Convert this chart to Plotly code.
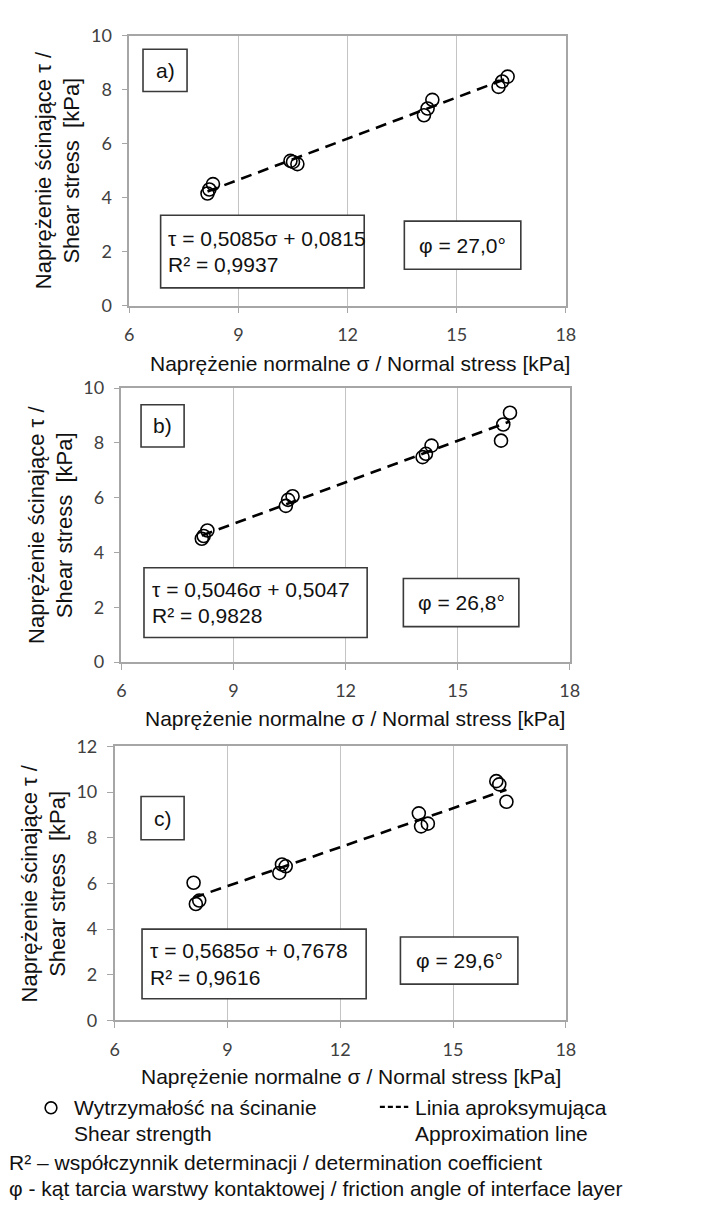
import plotly.graph_objects as go

W, H = 707, 1216

# ---------------- data ----------------
sigma_a = [8.15, 8.2, 8.3, 10.43, 10.5, 10.62, 14.1, 14.2, 14.33, 16.15, 16.25, 16.4]
tau_a = [4.15, 4.3, 4.5, 5.36, 5.32, 5.24, 7.05, 7.3, 7.62, 8.1, 8.3, 8.48]

sigma_b = [8.15, 8.2, 8.3, 10.4, 10.46, 10.58, 14.06, 14.15, 14.3, 16.16, 16.22, 16.4]
tau_b = [4.5, 4.6, 4.8, 5.7, 5.92, 6.05, 7.48, 7.6, 7.9, 8.08, 8.67, 9.1]

sigma_c = [8.1, 8.16, 8.25, 10.38, 10.45, 10.55, 14.09, 14.15, 14.33, 16.15, 16.23, 16.42]
tau_c = [6.03, 5.1, 5.25, 6.46, 6.83, 6.75, 9.07, 8.5, 8.62, 10.48, 10.34, 9.58]

slopes = [0.5085, 0.5046, 0.5685]
intercepts = [0.0815, 0.5047, 0.7678]
slope_txt = ["0,5085", "0,5046", "0,5685"]
intercept_txt = ["0,0815", "0,5047", "0,7678"]
r2_txt = ["0,9937", "0,9828", "0,9616"]
phi_txt = ["27,0", "26,8", "29,6"]
panel_labels = ["a)", "b)", "c)"]
y_max = [10, 10, 12]
x_ticks = [6, 9, 12, 15, 18]

sigmas = [sigma_a, sigma_b, sigma_c]
taus = [tau_a, tau_b, tau_c]

# ---------------- layout geometry (pixels) ----------------
areas = [(127, 573, 24, 299), (119, 577, 383, 662), (112, 573, 748, 1027)]
label_boxes = [(141, 38, 186, 81), (139, 400, 183, 443), (139, 799, 183, 843)]
eq_boxes = [(159, 207, 367, 281), (142, 566, 370, 637), (140, 934, 369, 1005)]
phi_boxes = [(408, 213, 527, 262), (407, 577, 525, 626), (404, 942, 524, 990)]
xtitle_pos = [(363, 358), (358, 720), (353, 1084)]

TXT = "Liberation Sans, Arial, sans-serif"
TICK = "Lato, Calibri, sans-serif"
TXT_COLOR = "#111111"


def fx(x):
    return x / W


def fy(y):
    return 1 - y / H


def text_ann(text, x, y, size=21, xanchor="center", angle=0):
    return dict(text=text, xref="paper", yref="paper", x=fx(x), y=fy(y),
                xanchor=xanchor, yanchor="middle", showarrow=False,
                textangle=angle,
                font=dict(family=TXT, size=size, color=TXT_COLOR))


fig = go.Figure()
layout = dict(
    width=W, height=H, margin=dict(l=0, r=0, t=0, b=0),
    paper_bgcolor="white", plot_bgcolor="white", showlegend=False,
)
shapes = []
annotations = []

for i in range(3):
    sfx = "" if i == 0 else str(i + 1)
    xa, ya = "x" + sfx, "y" + sfx
    fig.add_trace(go.Scatter(
        x=sigmas[i], y=taus[i], mode="markers", xaxis=xa, yaxis=ya,
        marker=dict(symbol="circle-open", size=13, color="black",
                    line=dict(width=1.6, color="black")),
    ))
    xs = [min(sigmas[i]), max(sigmas[i])]
    ys = [slopes[i] * v + intercepts[i] for v in xs]
    fig.add_trace(go.Scatter(
        x=xs, y=ys, mode="lines", xaxis=xa, yaxis=ya,
        line=dict(color="black", width=2.6, dash="11px,7px"),
    ))
    l, r, t, b = areas[i]
    axis_common = dict(
        showline=True, linecolor="#a6a6a6", linewidth=1.5, mirror=True,
        ticks="outside", ticklen=6, tickcolor="#a6a6a6", tickwidth=1.3,
        tickfont=dict(family=TICK, size=18, color="#404040"),
        ticklabelstandoff=6, zeroline=False, fixedrange=True,
    )
    layout["xaxis" + sfx] = dict(
        domain=[fx(l), fx(r)], anchor=ya, range=[6, 18], tickvals=x_ticks,
        showgrid=True, gridcolor="#c4c4c4", gridwidth=1.2, **axis_common)
    layout["yaxis" + sfx] = dict(
        domain=[fy(b), fy(t)], anchor=xa, range=[0, y_max[i]], dtick=2,
        showgrid=False, **axis_common)

    # boxes
    for (x0, y0, x1, y1) in (label_boxes[i], eq_boxes[i], phi_boxes[i]):
        shapes.append(dict(type="rect", xref="paper", yref="paper",
                           x0=fx(x0), x1=fx(x1), y0=fy(y1), y1=fy(y0),
                           line=dict(color="#3a3a3a", width=1.6),
                           fillcolor="white", layer="above"))
    x0, y0, x1, y1 = label_boxes[i]
    annotations.append(text_ann(panel_labels[i], (x0 + x1) / 2, (y0 + y1) / 2))
    x0, y0, x1, y1 = eq_boxes[i]
    cy = (y0 + y1) / 2
    annotations.append(text_ann("τ = " + slope_txt[i] + "σ + " + intercept_txt[i],
                                x0 + 6, cy - 13.5, xanchor="left"))
    annotations.append(text_ann("R² = " + r2_txt[i], x0 + 6, cy + 13.5,
                                xanchor="left"))
    x0, y0, x1, y1 = phi_boxes[i]
    annotations.append(text_ann("φ = " + phi_txt[i] + "°",
                                (x0 + x1) / 2, (y0 + y1) / 2))
    # axis titles
    cx, cyt = xtitle_pos[i]
    annotations.append(text_ann("Naprężenie normalne σ / Normal stress [kPa]",
                                cx, cyt))
    annotations.append(text_ann("Naprężenie ścinające τ /", l - 87.5,
                                (t + b) / 2, size=22, angle=-90))
    annotations.append(text_ann("Shear stress  [kPa]", l - 58.5,
                                (t + b) / 2, size=22, angle=-90))

# ---------------- legend / footnotes ----------------
shapes.append(dict(type="circle", xref="paper", yref="paper",
                   x0=fx(41), x1=fx(53), y0=fy(1122), y1=fy(1110),
                   line=dict(color="black", width=1.6)))
shapes.append(dict(type="line", xref="paper", yref="paper",
                   x0=fx(383), x1=fx(412), y0=fy(1115), y1=fy(1115),
                   line=dict(color="black", width=2.2, dash="5px,3px")))
legend_texts = [
    ("Wytrzymałość na ścinanie", 68, 1116),
    ("Shear strength", 68, 1142),
    ("Linia aproksymująca", 417, 1116),
    ("Approximation line", 417, 1142),
    ("R² – współczynnik determinacji / determination coefficient", 2, 1172),
    ("φ - kąt tarcia warstwy kontaktowej / friction angle of interface layer", 2, 1198),
]
for txt, x, y in legend_texts:
    annotations.append(text_ann(txt, x, y, xanchor="left"))

layout["shapes"] = shapes
layout["annotations"] = annotations
fig.update_layout(**layout)
fig.write_html("out.html")
